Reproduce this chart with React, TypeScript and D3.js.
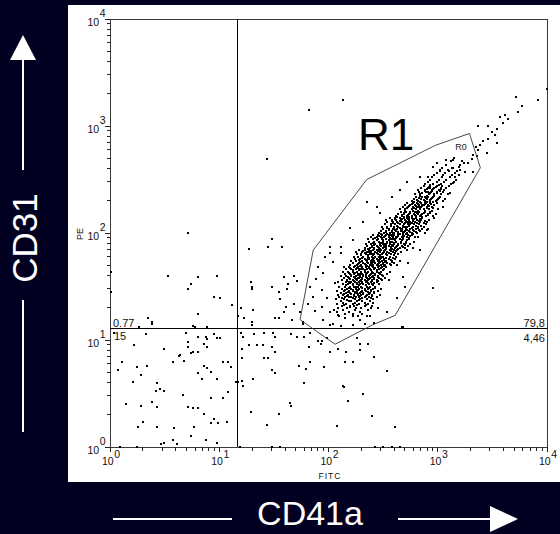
import React from "react";
import * as d3 from "d3";

// ---- Data (all event coordinates are log10 of intensity: [FITC, PE]) ----
const X_TICK_EXPONENTS = [0, 1, 2, 3, 4];
const Y_TICK_EXPONENTS = [0, 1, 2, 3, 4];
const X_AXIS_NAME = "FITC";
const Y_AXIS_NAME = "PE";
const X_MARKER = "CD41a";
const Y_MARKER = "CD31";
const QUAD_X = 14.5; // vertical quadrant divider (FITC)
const QUAD_Y = 12.9; // horizontal quadrant divider (PE)
const QUAD_STATS = { upperLeft: "0.77", lowerLeft: "15", upperRight: "79,8", lowerRight: "4,46" };
const GATE_NAME = "R1";
const GATE_TAG = "R0";

// R1 gate polygon vertices, log10 [FITC, PE]
const GATE_LOG: [number, number][] = [
  [1.74, 1.19], [1.86, 1.84], [2.35, 2.5], [2.98, 2.82], [3.29, 2.93],
  [3.39, 2.61], [2.61, 1.23], [2.4, 1.14], [2.06, 0.96],
];

const LOWER_LEFT_LOG: [number, number][] = [
  [0.04, 1.07], [0.33, 1.06], [0.7, 1.07], [0.71, 0.98], [0.81, 1.03], [0.88, 1.03], [0.89, 1.01], [0.95, 1.06], [0.98, 1.02], [1.01, 1.02],
  [0.22, 0.95], [0.49, 0.92], [0.71, 0.93], [0.74, 0.88], [0.76, 0.89], [0.81, 0.89], [0.86, 0.96], [0.89, 0.93], [0.63, 0.85], [0.64, 0.86],
  [0.58, 0.79], [0.68, 0.8], [0.11, 0.79], [0.07, 0.72], [0.25, 0.75], [0.34, 0.76], [0.28, 0.67], [0.86, 0.76], [0.89, 0.74], [0.92, 0.7],
  [0.81, 0.69], [1.03, 0.79], [1.08, 0.79], [1.11, 0.75], [0.84, 0.64], [0.98, 0.64], [0.21, 0.61], [0.43, 0.6], [0.42, 0.52], [0.46, 0.54],
  [0.49, 0.52], [0.67, 0.49], [0.92, 0.46], [1.03, 0.46], [1.08, 0.51], [0.15, 0.4], [0.28, 0.38], [0.38, 0.42], [0.43, 0.37], [0.71, 0.37],
  [0.76, 0.36], [0.81, 0.36], [0.86, 0.31], [0.95, 0.26], [0.99, 0.22], [0.92, 0.22], [1.07, 0.23], [0.26, 0.19], [0.3, 0.23], [0.43, 0.19],
  [0.59, 0.18], [0.77, 0.19], [0.74, 0.1], [0.88, 0.07], [0.98, 0.04], [0.58, 0.07], [0.61, 0.03], [0.47, 0.03], [0.49, 0.04], [0.25, 0], [0.09, 0],
  [1.15, 0.61],
];

const UPPER_LEFT_LOG: [number, number][] = [
  [0.27, 1.12], [0.38, 1.15], [0.76, 1.13], [0.78, 1.12], [0.71, 2.0], [0.53, 1.6], [0.71, 1.48], [0.74, 1.52], [0.81, 1.59], [0.98, 1.6],
  [0.95, 1.4], [1.01, 1.39], [1.12, 1.33], [0.81, 1.24], [0.35, 1.21], [0.38, 1.17], [0.89, 1.12], [0.01, 1.64], [0.01, 1.45],
];

const LOWER_RIGHT_LOG: [number, number][] = [
  [1.2, 1.07], [1.22, 1.03], [1.32, 1.06], [1.27, 0.95], [1.35, 0.95], [1.21, 0.92], [1.21, 0.83], [1.17, 0.61], [1.21, 0.62], [1.22, 0.57],
  [1.31, 0.64], [1.29, 0.33], [1.41, 1.07], [1.49, 1.07], [1.51, 1.03], [1.66, 1.06], [1.71, 1.03], [1.78, 1.03], [1.83, 1.07], [1.9, 0.99],
  [1.94, 0.99], [1.99, 1.02], [1.4, 0.95], [1.48, 0.93], [1.51, 0.89], [1.82, 0.93], [1.93, 0.96], [2.01, 0.89], [2.09, 0.92], [2.16, 0.89],
  [2.26, 1.02], [2.29, 0.96], [2.29, 0.91], [2.36, 0.96], [1.41, 0.83], [1.45, 0.83], [2.42, 0.84], [1.73, 0.76], [1.79, 0.73], [1.83, 0.79],
  [1.96, 0.75], [2.15, 0.79], [2.22, 0.79], [1.48, 0.72], [1.51, 0.69], [2.54, 0.71], [1.78, 0.6], [2.13, 0.57], [2.14, 0.56], [2.32, 0.5],
  [1.65, 0.41], [1.66, 0.38], [2.18, 0.43], [1.55, 0.31], [2.4, 0.29], [1.44, 0.21], [2.08, 0.2], [2.61, 0.19], [1.48, 0], [1.56, 0],
  [2.43, 0], [2.5, 0], [2.58, 0], [2.65, 0], [1.19, 0],
];

const UPPER_RIGHT_SCATTER_LOG: [number, number][] = [
  [1.27, 1.85], [1.29, 1.54], [1.3, 1.5], [1.3, 1.48], [1.2, 1.3], [1.17, 1.22], [1.23, 1.21], [1.31, 1.28], [1.3, 1.17], [1.3, 1.14],
  [1.48, 1.94], [1.45, 1.87], [1.57, 1.87], [1.59, 1.59], [1.68, 1.6], [1.48, 1.5], [1.63, 1.52], [1.71, 1.55], [1.55, 1.45], [1.62, 1.48],
  [1.56, 1.38], [1.61, 1.31], [1.68, 1.34], [1.51, 1.21], [1.55, 1.21], [1.67, 1.19], [1.59, 1.26], [2.96, 1.49], [2.68, 1.12], [1.44, 2.69],
  [1.82, 3.15], [2.13, 3.24], [1.77, 1.15], [2.01, 1.14], [2.04, 1.15], [2.11, 1.13], [2.22, 1.14], [2.33, 1.15], [2.42, 1.16], [2.67, 1.12],
];

const TAIL_LOG: [number, number][] = [
  [4.0, 3.35], [3.72, 3.27], [3.92, 3.24], [3.77, 3.19], [3.73, 3.13], [3.57, 3.08], [3.62, 3.1], [3.64, 3.07], [3.6, 3.03], [3.37, 3.0],
  [3.46, 3.0], [3.54, 2.97], [3.5, 2.94], [3.52, 2.92], [3.54, 2.84], [3.46, 2.88], [3.41, 2.86], [3.39, 2.82], [3.35, 2.8], [3.37, 2.78],
  [3.45, 2.75], [3.32, 2.73], [3.36, 2.72], [3.31, 2.69], [3.28, 2.65], [3.24, 2.65], [3.2, 2.64], [3.14, 2.68], [3.09, 2.59], [3.02, 2.59],
  [2.99, 2.56], [3.2, 2.59], [2.96, 2.62], [3.25, 2.57], [2.91, 2.52], [3.16, 2.52], [3.32, 2.57],
];

const HALO_LOG: [number, number][] = [
  [2.01, 1.87], [1.97, 1.78], [1.9, 1.68], [1.95, 1.63], [1.89, 1.57], [1.83, 1.5], [1.94, 1.47], [1.86, 1.4], [1.99, 1.39], [1.81, 1.34],
  [1.94, 1.31], [1.88, 1.27], [2.01, 1.26], [2.09, 1.23], [1.95, 1.19], [2.15, 1.21], [2.22, 1.22], [2.29, 1.19], [2.38, 1.22], [2.45, 1.3],
  [2.54, 1.26], [2.63, 1.39], [2.7, 1.5], [2.68, 1.59], [2.73, 1.72], [2.72, 1.84], [2.84, 1.84], [2.06, 1.53], [2.04, 1.73], [2.11, 1.81],
  [2.41, 1.35], [2.2, 1.31], [1.77, 1.17], [1.74, 1.26], [2.35, 2.29], [2.47, 2.19], [2.58, 2.34], [2.65, 2.4], [2.72, 2.48], [2.84, 2.52],
  [2.99, 2.65], [3.08, 2.68], [3.13, 2.61], [3.19, 2.62], [3.14, 2.47], [3.11, 2.37], [3.05, 2.24], [2.97, 2.14], [2.9, 2.03], [2.82, 1.96],
  [2.2, 2.05], [2.22, 1.93], [2.11, 1.87], [2.01, 1.81], [2.32, 2.1], [2.44, 2.24],
];

// Dense core of the R1 population: rows of [PE log, FITC logs]
const CORE_ROWS: [number, number[]][] = [
  [1.22, [2.1, 2.27, 2.35]],
  [1.24, [2.15, 2.22, 2.31]],
  [1.26, [2.08, 2.19, 2.29]],
  [1.28, [2.13, 2.24, 2.36, 2.05]],
  [1.3, [2.09, 2.17, 2.25, 2.3, 2.39]],
  [1.32, [2.12, 2.2, 2.23, 2.33, 2.4]],
  [1.34, [2.08, 2.16, 2.22, 2.28, 2.36]],
  [1.36, [2.11, 2.19, 2.26, 2.31, 2.38, 2.21]],
  [1.38, [2.07, 2.14, 2.24, 2.29, 2.35, 2.41]],
  [1.4, [2.1, 2.15, 2.21, 2.25, 2.28, 2.33, 2.37, 2.44, 2.19]],
  [1.42, [2.09, 2.13, 2.18, 2.23, 2.27, 2.3, 2.35, 2.4, 2.47]],
  [1.44, [2.11, 2.16, 2.2, 2.24, 2.29, 2.32, 2.38, 2.42, 2.26]],
  [1.46, [2.08, 2.14, 2.19, 2.22, 2.26, 2.31, 2.34, 2.39, 2.45]],
  [1.48, [2.12, 2.17, 2.21, 2.25, 2.28, 2.33, 2.36, 2.41, 2.48]],
  [1.5, [2.1, 2.15, 2.2, 2.23, 2.27, 2.3, 2.35, 2.38, 2.43, 2.25]],
  [1.52, [2.13, 2.18, 2.22, 2.26, 2.29, 2.32, 2.37, 2.4, 2.46]],
  [1.54, [2.09, 2.16, 2.19, 2.24, 2.28, 2.31, 2.34, 2.39, 2.44, 2.21]],
  [1.56, [2.12, 2.17, 2.22, 2.26, 2.3, 2.33, 2.36, 2.4, 2.44, 2.49, 2.55]],
  [1.58, [2.14, 2.19, 2.24, 2.28, 2.31, 2.35, 2.38, 2.42, 2.46, 2.52, 2.27]],
  [1.6, [2.11, 2.16, 2.21, 2.25, 2.29, 2.32, 2.37, 2.41, 2.45, 2.5, 2.34]],
  [1.62, [2.15, 2.2, 2.23, 2.27, 2.31, 2.34, 2.39, 2.43, 2.47, 2.54, 2.29]],
  [1.64, [2.13, 2.18, 2.22, 2.26, 2.3, 2.33, 2.36, 2.4, 2.44, 2.48, 2.56]],
  [1.66, [2.16, 2.21, 2.25, 2.28, 2.32, 2.35, 2.38, 2.42, 2.46, 2.51, 2.3]],
  [1.68, [2.14, 2.19, 2.23, 2.27, 2.31, 2.34, 2.37, 2.41, 2.45, 2.49, 2.53]],
  [1.7, [2.2, 2.26, 2.3, 2.34, 2.38, 2.41, 2.44, 2.48, 2.52, 2.57, 2.63]],
  [1.72, [2.22, 2.28, 2.32, 2.36, 2.4, 2.43, 2.46, 2.5, 2.54, 2.6, 2.39]],
  [1.74, [2.21, 2.25, 2.31, 2.35, 2.39, 2.42, 2.45, 2.49, 2.53, 2.58, 2.65]],
  [1.76, [2.24, 2.29, 2.33, 2.37, 2.41, 2.44, 2.47, 2.51, 2.55, 2.61, 2.36]],
  [1.78, [2.23, 2.27, 2.32, 2.36, 2.4, 2.43, 2.46, 2.5, 2.56, 2.62, 2.48]],
  [1.8, [2.26, 2.3, 2.34, 2.38, 2.42, 2.45, 2.49, 2.53, 2.57, 2.64, 2.4]],
  [1.82, [2.25, 2.31, 2.35, 2.39, 2.43, 2.47, 2.51, 2.54, 2.59, 2.66, 2.37]],
  [1.84, [2.28, 2.33, 2.37, 2.41, 2.44, 2.48, 2.52, 2.56, 2.6, 2.63, 2.46]],
  [1.86, [2.33, 2.38, 2.42, 2.46, 2.5, 2.53, 2.57, 2.61, 2.65, 2.7, 2.77]],
  [1.88, [2.35, 2.4, 2.44, 2.48, 2.51, 2.55, 2.59, 2.63, 2.67, 2.73, 2.53]],
  [1.9, [2.34, 2.39, 2.43, 2.47, 2.52, 2.56, 2.6, 2.64, 2.69, 2.75, 2.5]],
  [1.92, [2.37, 2.42, 2.46, 2.5, 2.54, 2.58, 2.62, 2.66, 2.71, 2.78, 2.56]],
  [1.94, [2.36, 2.41, 2.45, 2.49, 2.53, 2.57, 2.61, 2.65, 2.68, 2.74, 2.59]],
  [1.96, [2.39, 2.44, 2.48, 2.51, 2.55, 2.59, 2.63, 2.67, 2.72, 2.79, 2.62]],
  [1.98, [2.41, 2.45, 2.49, 2.53, 2.57, 2.6, 2.64, 2.68, 2.73, 2.76, 2.55]],
  [2.0, [2.46, 2.51, 2.56, 2.6, 2.64, 2.68, 2.72, 2.76, 2.81, 2.88]],
  [2.02, [2.48, 2.53, 2.58, 2.62, 2.66, 2.7, 2.74, 2.78, 2.84, 2.67]],
  [2.04, [2.5, 2.55, 2.59, 2.63, 2.67, 2.71, 2.75, 2.8, 2.86, 2.91]],
  [2.06, [2.49, 2.54, 2.6, 2.64, 2.68, 2.72, 2.77, 2.82, 2.87, 2.7]],
  [2.08, [2.52, 2.57, 2.61, 2.65, 2.69, 2.73, 2.78, 2.83, 2.89, 2.75]],
  [2.1, [2.54, 2.59, 2.63, 2.67, 2.71, 2.75, 2.79, 2.84, 2.9, 2.73]],
  [2.12, [2.53, 2.58, 2.62, 2.66, 2.7, 2.74, 2.77, 2.81, 2.85, 2.92]],
  [2.14, [2.56, 2.61, 2.65, 2.69, 2.72, 2.76, 2.8, 2.86, 2.74]],
  [2.16, [2.62, 2.67, 2.72, 2.76, 2.8, 2.84, 2.89, 2.96]],
  [2.18, [2.64, 2.69, 2.74, 2.78, 2.82, 2.86, 2.91, 2.98]],
  [2.2, [2.66, 2.71, 2.75, 2.79, 2.83, 2.88, 2.93, 2.81]],
  [2.22, [2.65, 2.7, 2.76, 2.8, 2.84, 2.87, 2.92, 3.0]],
  [2.24, [2.68, 2.73, 2.77, 2.81, 2.85, 2.9, 2.95, 2.83]],
  [2.26, [2.7, 2.75, 2.79, 2.83, 2.87, 2.91, 2.97, 2.86]],
  [2.28, [2.72, 2.77, 2.81, 2.85, 2.89, 2.93, 2.99, 2.88]],
  [2.3, [2.76, 2.82, 2.88, 2.93, 2.98, 3.05]],
  [2.32, [2.78, 2.85, 2.9, 2.94, 3.0, 3.07]],
  [2.34, [2.8, 2.86, 2.91, 2.96, 3.02, 2.88]],
  [2.36, [2.79, 2.84, 2.92, 2.97, 3.03, 3.09]],
  [2.38, [2.83, 2.89, 2.94, 2.99, 3.05, 2.91]],
  [2.4, [2.82, 2.88, 2.95, 3.01, 3.06]],
  [2.42, [2.85, 2.91, 2.97, 3.03, 3.08, 2.93]],
  [2.44, [2.87, 2.93, 2.99, 3.04, 3.1]],
  [2.46, [2.88, 2.96, 3.03, 3.12]],
  [2.48, [2.91, 2.99, 3.06, 3.15]],
  [2.5, [2.93, 3.01, 3.08, 3.17]],
  [2.52, [2.95, 3.04, 3.11]],
  [2.54, [2.97, 3.05, 3.13, 3.19]],
  [2.56, [2.99, 3.07, 3.16]],
  [2.58, [3.02, 3.1, 3.18]],
  [2.61, [3.04, 3.14]],
  [2.64, [3.08, 3.2]],
  [2.67, [3.12, 3.22]],
  [2.7, [3.15]],
];

// Interleaved rows filling the densest centre of the core
const CORE_ROWS_DENSE: [number, number[]][] = [
  [1.33, [2.14, 2.26, 2.34]],
  [1.35, [2.13, 2.24, 2.33]],
  [1.37, [2.17, 2.28]],
  [1.39, [2.12, 2.22, 2.31, 2.39]],
  [1.41, [2.17, 2.23, 2.29, 2.34, 2.4]],
  [1.43, [2.14, 2.21, 2.27, 2.32, 2.37]],
  [1.45, [2.18, 2.24, 2.3, 2.36, 2.42]],
  [1.47, [2.15, 2.22, 2.27, 2.33, 2.39]],
  [1.49, [2.19, 2.25, 2.31, 2.37, 2.43]],
  [1.51, [2.16, 2.22, 2.28, 2.34, 2.41]],
  [1.53, [2.2, 2.26, 2.31, 2.36, 2.42]],
  [1.55, [2.17, 2.23, 2.29, 2.35, 2.4, 2.45]],
  [1.57, [2.2, 2.25, 2.31, 2.37, 2.42, 2.48]],
  [1.59, [2.18, 2.23, 2.29, 2.34, 2.4, 2.45]],
  [1.61, [2.21, 2.27, 2.32, 2.38, 2.43, 2.49]],
  [1.63, [2.19, 2.24, 2.3, 2.35, 2.41, 2.46]],
  [1.65, [2.22, 2.28, 2.33, 2.39, 2.44, 2.5]],
  [1.67, [2.2, 2.26, 2.31, 2.37, 2.43, 2.48]],
  [1.69, [2.24, 2.29, 2.35, 2.4, 2.46, 2.51]],
  [1.71, [2.27, 2.33, 2.39, 2.45, 2.5, 2.56]],
  [1.73, [2.29, 2.35, 2.41, 2.47, 2.52, 2.58]],
  [1.75, [2.28, 2.34, 2.4, 2.46, 2.51, 2.57]],
  [1.77, [2.31, 2.37, 2.42, 2.48, 2.53, 2.59]],
  [1.79, [2.3, 2.36, 2.41, 2.47, 2.54, 2.6]],
  [1.81, [2.33, 2.38, 2.44, 2.5, 2.55, 2.61]],
  [1.83, [2.32, 2.39, 2.45, 2.51, 2.57, 2.62]],
  [1.85, [2.36, 2.42, 2.47, 2.53, 2.58, 2.64]],
  [1.87, [2.4, 2.45, 2.51, 2.57, 2.62, 2.68]],
  [1.89, [2.42, 2.47, 2.53, 2.58, 2.64, 2.7]],
  [1.91, [2.41, 2.48, 2.54, 2.6, 2.66, 2.71]],
  [1.93, [2.44, 2.5, 2.55, 2.61, 2.67, 2.72]],
  [1.95, [2.43, 2.49, 2.56, 2.62, 2.68, 2.74]],
  [1.97, [2.46, 2.52, 2.58, 2.64, 2.69, 2.75]],
  [1.99, [2.48, 2.54, 2.59, 2.65, 2.71, 2.77]],
  [2.01, [2.53, 2.58, 2.64, 2.69, 2.75, 2.8]],
  [2.03, [2.55, 2.61, 2.66, 2.72, 2.77, 2.83]],
  [2.05, [2.54, 2.6, 2.65, 2.71, 2.76, 2.82]],
  [2.07, [2.57, 2.63, 2.68, 2.74, 2.8, 2.85]],
  [2.09, [2.59, 2.64, 2.7, 2.76, 2.81, 2.87]],
  [2.11, [2.58, 2.65, 2.71, 2.77, 2.83, 2.88]],
  [2.13, [2.61, 2.67, 2.73, 2.78, 2.84]],
  [2.15, [2.63, 2.69, 2.74, 2.8, 2.86]],
  [2.17, [2.67, 2.73, 2.79, 2.85, 2.91]],
  [2.19, [2.69, 2.75, 2.81, 2.87, 2.93]],
  [2.21, [2.7, 2.77, 2.82, 2.88, 2.95]],
  [2.23, [2.72, 2.78, 2.84, 2.9, 2.96]],
  [2.25, [2.74, 2.8, 2.86, 2.92]],
  [2.27, [2.76, 2.82, 2.88, 2.94]],
  [2.29, [2.78, 2.84, 2.9, 2.96]],
  [2.31, [2.81, 2.87, 2.93, 2.99]],
  [2.33, [2.83, 2.89, 2.95, 3.01]],
  [2.35, [2.84, 2.9, 2.97]],
  [2.37, [2.86, 2.93, 2.99]],
  [2.39, [2.88, 2.95, 3.02]],
  [2.41, [2.9, 2.96, 3.03]],
  [2.43, [2.92, 2.98]],
  [2.45, [2.93, 3.01]],
];

const FONT = "'Liberation Sans', Arial, Helvetica, sans-serif";
const BG = "#020020";

export default function App() {
  const W = 560;
  const H = 534;
  const plot = { left: 110, right: 547, top: 19, bottom: 447 };
  const x = d3.scaleLog().domain([1, 1e4]).range([plot.left, plot.right]);
  const y = d3.scaleLog().domain([1, 1e4]).range([plot.bottom, plot.top]);
  const pw = (l: number) => Math.pow(10, l);

  const rowsToEvents = (rows: [number, number[]][]) =>
    rows.flatMap(([pe, fs]) => fs.map((f) => [f, pe] as [number, number]));

  const events: [number, number][] = [
    ...LOWER_LEFT_LOG,
    ...UPPER_LEFT_LOG,
    ...LOWER_RIGHT_LOG,
    ...UPPER_RIGHT_SCATTER_LOG,
    ...TAIL_LOG,
    ...HALO_LOG,
    ...rowsToEvents(CORE_ROWS),
    ...rowsToEvents(CORE_ROWS_DENSE),
  ];

  const gatePath = d3
    .line<[number, number]>()
    .x((d) => x(pw(d[0])))
    .y((d) => y(pw(d[1])))
    .curve(d3.curveLinearClosed)(GATE_LOG) as string;

  const minorVals: number[] = [];
  for (let e = 0; e < 4; e++) for (let m = 2; m <= 9; m++) minorVals.push(m * Math.pow(10, e));

  const qx = Math.round(x(QUAD_X)) + 0.5;
  const qy = Math.round(y(QUAD_Y)) + 0.5;

  return (
    <svg
      width={W}
      height={H}
      viewBox={`0 0 ${W} ${H}`}
      style={{ position: "absolute", left: 0, top: 0, display: "block" }}
      fontFamily={FONT}
    >
      <rect x={0} y={0} width={W} height={H} fill={BG} />
      <rect x={68} y={5} width={W - 68} height={477} fill="#ffffff" />

      {/* frame */}
      <rect
        x={plot.left + 0.5}
        y={plot.top + 0.5}
        width={plot.right - plot.left}
        height={plot.bottom - plot.top}
        fill="none"
        stroke="#3a3a3a"
        strokeWidth={1}
      />

      {/* ticks */}
      <g stroke="#222" shapeRendering="crispEdges">
        {Y_TICK_EXPONENTS.map((e) => (
          <line key={"ym" + e} x1={plot.left - 5} x2={plot.left} y1={y(pw(e))} y2={y(pw(e))} />
        ))}
        {minorVals.map((v) => (
          <line key={"yn" + v} x1={plot.left - 3.5} x2={plot.left} y1={y(v)} y2={y(v)} />
        ))}
        {X_TICK_EXPONENTS.map((e) => (
          <line key={"xm" + e} y1={plot.bottom} y2={plot.bottom + 5} x1={x(pw(e))} x2={x(pw(e))} />
        ))}
        {minorVals.map((v) => (
          <line key={"xn" + v} y1={plot.bottom} y2={plot.bottom + 3.5} x1={x(v)} x2={x(v)} />
        ))}
      </g>

      {/* y tick labels */}
      {Y_TICK_EXPONENTS.map((e) => (
        <text key={"yl" + e} x={87.5} y={y(pw(e)) + 6.5} fontSize={10.5} fill="#111">
          10
          <tspan dx={0.5} dy={-8.5}>{e}</tspan>
        </text>
      ))}
      {/* x tick labels */}
      {X_TICK_EXPONENTS.map((e) => (
        <text key={"xl" + e} x={x(pw(e)) - 8} y={465} fontSize={10.5} fill="#111">
          10
          <tspan dx={0.5} dy={-7}>{e}</tspan>
        </text>
      ))}

      <text transform={`translate(83,234) rotate(-90)`} textAnchor="middle" fontSize={9} fill="#111">
        {Y_AXIS_NAME}
      </text>
      <text x={330} y={479} textAnchor="middle" fontSize={8.5} letterSpacing={1} fill="#111">
        {X_AXIS_NAME}
      </text>

      {/* quadrant lines */}
      <line x1={qx} x2={qx} y1={plot.top} y2={plot.bottom} stroke="#000" strokeWidth={1} />
      <line x1={plot.left} x2={plot.right} y1={qy} y2={qy} stroke="#000" strokeWidth={1} />

      {/* events */}
      <g fill="#000" shapeRendering="crispEdges">
        {events.map((d, i) => (
          <rect
            key={i}
            x={Math.round(x(pw(d[0]))) - 1}
            y={Math.round(y(pw(d[1]))) - 1}
            width={2}
            height={2}
          />
        ))}
      </g>

      {/* gate */}
      <path d={gatePath} fill="none" stroke="#333" strokeWidth={0.9} />
      <text x={x(pw(2.27))} y={y(pw(2.78))} fontSize={44} fill="#000">{GATE_NAME}</text>
      <text x={x(pw(3.16))} y={y(pw(2.78))} fontSize={9} fill="#222">{GATE_TAG}</text>

      {/* quadrant stats */}
      <g fontSize={11} fill="#111">
        <text x={plot.left + 3} y={qy - 1.5}>{QUAD_STATS.upperLeft}</text>
        <text x={plot.left + 4} y={qy + 11}>{QUAD_STATS.lowerLeft}</text>
        <text x={plot.right - 2} y={qy - 1.5} textAnchor="end">{QUAD_STATS.upperRight}</text>
        <text x={plot.right - 2} y={qy + 13} textAnchor="end">{QUAD_STATS.lowerRight}</text>
      </g>

      {/* marker annotations */}
      <g stroke="#ffffff" strokeWidth={2}>
        <line x1={23} x2={23} y1={60} y2={170} />
        <line x1={23} x2={23} y1={300} y2={432} />
        <line x1={113} x2={232} y1={519} y2={519} />
        <line x1={398} x2={492} y1={519} y2={519} />
      </g>
      <polygon points="10,60 36,60 23,35" fill="#ffffff" />
      <polygon points="490,506 490,532 518,519" fill="#ffffff" />
      <text transform={`translate(37,238) rotate(-90)`} textAnchor="middle" fontSize={35} fill="#ffffff">
        {Y_MARKER}
      </text>
      <text x={310} y={525} textAnchor="middle" fontSize={34} fill="#ffffff">
        {X_MARKER}
      </text>
    </svg>
  );
}
